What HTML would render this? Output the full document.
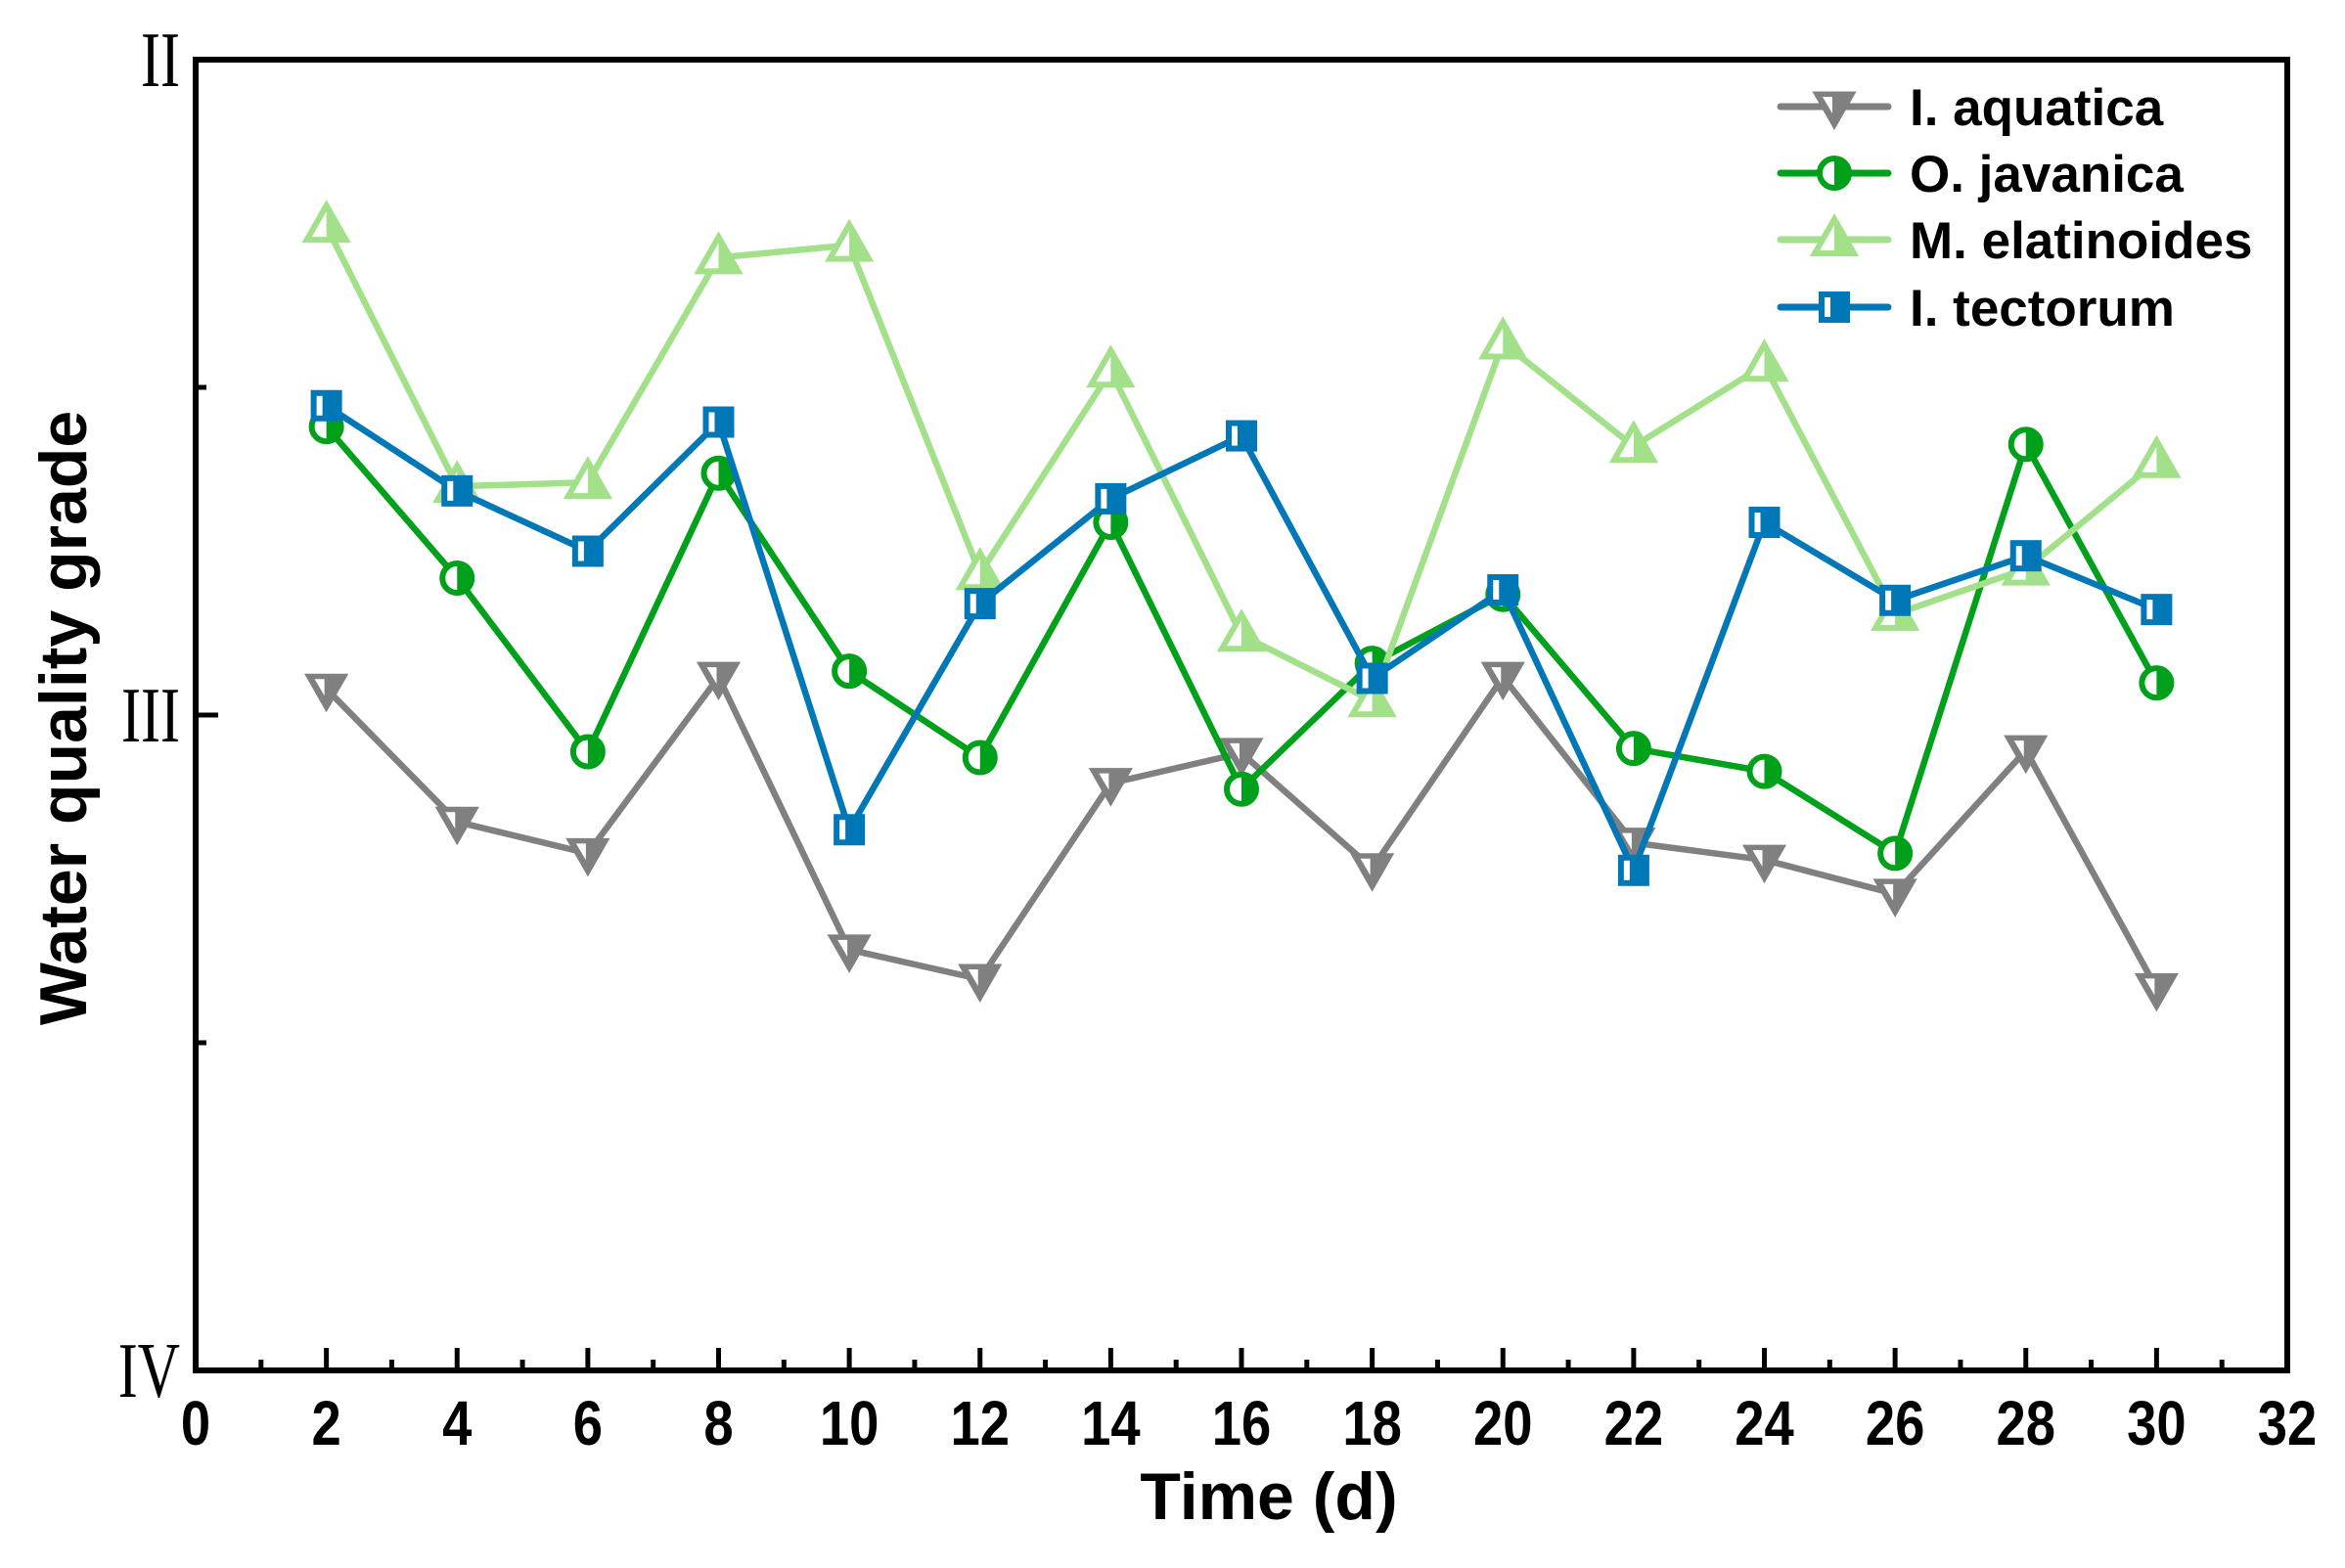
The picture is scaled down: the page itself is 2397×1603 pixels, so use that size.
<!DOCTYPE html>
<html><head><meta charset="utf-8"><style>
html,body{margin:0;padding:0;background:#fff;}
svg{display:block;}
</style></head><body>
<svg id="chart" width="2397" height="1603" viewBox="0 0 2397 1603" xmlns="http://www.w3.org/2000/svg">
<rect width="2397" height="1603" fill="#fff"/>
<g id="series"></g>
<g id="axes"></g>
<g id="legend"></g>
</svg>
<script>
const days = [2,4,6,8,10,12,14,16,18,20,22,24,26,28,30];
const aquatica = [2.960,3.163,3.211,2.942,3.358,3.403,3.104,3.058,3.234,2.942,3.195,3.221,3.273,3.054,3.417];
const javanica = [2.560,2.791,3.056,2.631,2.933,3.065,2.706,3.113,2.921,2.816,3.051,3.086,3.211,2.587,2.951];
const elatinoides = [2.254,2.651,2.645,2.302,2.283,2.784,2.475,2.878,2.978,2.432,2.590,2.466,2.846,2.777,2.613];
const tectorum = [2.528,2.658,2.750,2.553,3.175,2.830,2.670,2.574,2.944,2.809,3.237,2.706,2.825,2.757,2.839];
const xTicks = [0,2,4,6,8,10,12,14,16,18,20,22,24,26,28,30,32];
const yTickVals = [2,3,4];
const yTickLabels = ["II","III","IV"];
const seriesNames = ["I. aquatica","O. javanica","M. elatinoides","I. tectorum"];

const NS="http://www.w3.org/2000/svg";
const L=200,R=2338,T=61,B=1401;
const xs=v=>L+(v-0)/(32-0)*(R-L);
const ys=v=>T+(v-2)/(4-2)*(B-T);
function mk(tag,attrs,parent){const e=document.createElementNS(NS,tag);for(const k in attrs)e.setAttribute(k,attrs[k]);parent.appendChild(e);return e;}

const series=document.getElementById('series'),axes=document.getElementById('axes'),legend=document.getElementById('legend');
const defs=[
 {vals:aquatica,color:'#808080',shape:'tri-down',key:'i-aquatica'},
 {vals:javanica,color:'#00a11a',shape:'circle',key:'o-javanica'},
 {vals:elatinoides,color:'#a2e08a',shape:'tri-up',key:'m-elatinoides'},
 {vals:tectorum,color:'#0077b6',shape:'square',key:'i-tectorum'}
];
function marker(g,shape,cx,cy,color){
 let m;
 if(shape==='circle'){
  m=mk('g',{},g);
  mk('circle',{cx:cx,cy:cy,r:15,fill:'#fff',stroke:color,'stroke-width':6},m);
  mk('path',{d:`M${cx},${cy-15} A15,15 0 0 1 ${cx},${cy+15} Z`,fill:color},m);
 } else if(shape==='square'){
  m=mk('g',{},g);
  mk('rect',{x:cx-16,y:cy-16,width:32,height:32,fill:color},m);
  mk('rect',{x:cx-10,y:cy-10,width:6,height:20,fill:'#fff'},m);
 } else if(shape==='tri-down'){
  m=mk('g',{},g);
  mk('polygon',{points:`${cx-20},${cy-14} ${cx+20},${cy-14} ${cx},${cy+21}`,fill:color,stroke:color,'stroke-width':3,'stroke-linejoin':'miter'},m);
  mk('polygon',{points:`${cx-12},${cy-10} ${cx-2},${cy-10} ${cx-2},${cy+7}`,fill:'#fff'},m);
 } else {
  m=mk('g',{},g);
  mk('polygon',{points:`${cx-20},${cy+14} ${cx+20},${cy+14} ${cx},${cy-21}`,fill:'#fff',stroke:color,'stroke-width':6,'stroke-linejoin':'miter'},m);
  mk('polygon',{points:`${cx},${cy-18} ${cx+17},${cy+12} ${cx},${cy+12}`,fill:color},m);
 }
 return m;
}
defs.forEach((d,si)=>{
 const g=mk('g',{},series);
 
 
 const pts=d.vals.map((v,i)=>xs(days[i])+','+ys(v)).join(' ');
 const pl=mk('polyline',{points:pts,fill:'none',stroke:d.color,'stroke-width':6.5,'stroke-linejoin':'round'},g);
 
 
 d.vals.forEach((v,i)=>{
  const m=marker(g,d.shape,xs(days[i]),ys(v),d.color);
  
  
 });
});

const frame=mk('rect',{x:L,y:T,width:R-L,height:B-T,fill:'none',stroke:'#000','stroke-width':6},axes);


xTicks.forEach((v,i)=>{
 const x=xs(v);
 if(i>0&&i<xTicks.length-1){
  const t=mk('line',{x1:x,y1:B,x2:x,y2:B-23,stroke:'#000','stroke-width':5},axes);
  
  
 }
 if(i<xTicks.length-1){
  const xm=xs(v+1);
  const t2=mk('line',{x1:xm,y1:B,x2:xm,y2:B-11,stroke:'#000','stroke-width':5},axes);
  
  
 }
 const lb=mk('text',{x:0,y:0,transform:`translate(${x},1477) scale(0.85,1)`,'text-anchor':'middle','font-family':'Liberation Sans, sans-serif','font-weight':'bold','font-size':64},axes);
 lb.textContent=v;
 
 
});
yTickVals.forEach((v,i)=>{
 const y=ys(v);
 if(i>0&&i<yTickVals.length-1){
  const t=mk('line',{x1:L,y1:y,x2:L+23,y2:y,stroke:'#000','stroke-width':5},axes);
  
  
 }
 if(i<yTickVals.length-1){
  const ym=ys(v+0.5);
  const t2=mk('line',{x1:L,y1:ym,x2:L+11,y2:ym,stroke:'#000','stroke-width':5},axes);
  
  
 }
 const lb=mk('text',{x:0,y:0,transform:`translate(184,${y+27}) scale(0.75,1)`,'text-anchor':'end','font-family':'Liberation Serif, serif','font-size':80},axes);
 lb.textContent=yTickLabels[i];
 
 
});
const xt=mk('text',{x:1297,y:1553,'text-anchor':'middle','font-family':'Liberation Sans, sans-serif','font-weight':'bold','font-size':68},axes);
xt.textContent='Time (d)';


const yt=mk('text',{x:0,y:0,transform:'translate(88,734) rotate(-90)','text-anchor':'middle','font-family':'Liberation Sans, sans-serif','font-weight':'bold','font-size':68},axes);
yt.textContent='Water quality grade';



const rowsY=[109,177,245,314];
defs.forEach((d,i)=>{
 const g=mk('g',{},legend);
 
 
 const y=rowsY[i];
 mk('line',{x1:1820,y1:y,x2:1930,y2:y,stroke:d.color,'stroke-width':7,'stroke-linecap':'round'},g);
 marker(g,d.shape,1875,y,d.color);
 const t=mk('text',{x:1952,y:y+19,'font-family':'Liberation Sans, sans-serif','font-weight':'bold','font-size':53},g);
 t.textContent=seriesNames[i];
});
</script>
</body></html>
